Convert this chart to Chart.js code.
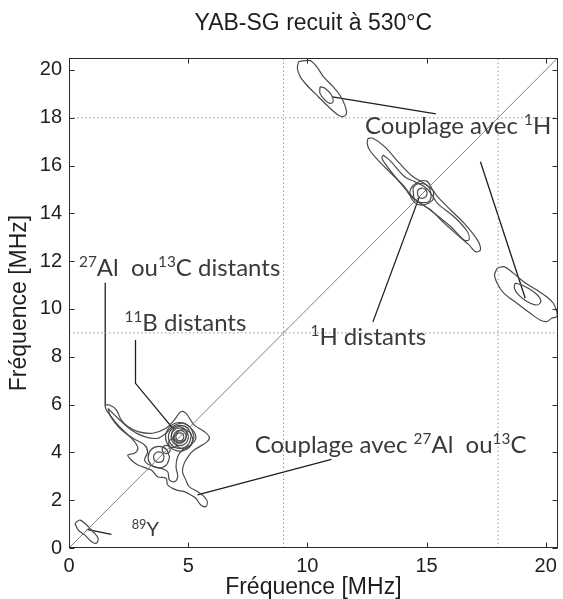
<!DOCTYPE html>
<html><head><meta charset="utf-8">
<script src="https://cdn.jsdelivr.net/npm/chart.js@4/dist/chart.umd.min.js"></script>
<style>html,body{margin:0;padding:0;background:#fff}#wrap{width:563px;height:599px;position:relative}</style>
</head><body><div id="wrap"><canvas id="c"></canvas></div>
<script>
// ---------- data ----------
const chartTitle = 'YAB-SG recuit à 530°C';
const axisTitle = 'Fréquence [MHz]';
const axisMax = 20.5;
const xTickValues = [0, 5, 10, 15, 20];
const yTickValues = [0, 2, 4, 6, 8, 10, 12, 14, 16, 18, 20];
const guideLinesX = [9, 18];
const guideLinesY = [9, 18];
const diagonal = [[0, 0], [20.5, 20.5]];

// contour lines (MHz, MHz)
const topLeftOuter = [[9.63,20.35],[10.11,20.39],[10.39,20.14],[10.67,19.72],[11.08,19.30],[11.36,18.95],[11.57,18.53],[11.64,18.19],[11.5,18.05],[11.29,18.12],[10.95,18.40],[10.46,18.88],[9.97,19.37],[9.70,19.72],[9.58,20.07]];
const topLeftInner = [[10.53,19.30],[10.74,19.23],[11.01,18.95],[11.08,18.67],[10.95,18.60],[10.74,18.74],[10.53,19.02]];
const ridgeOuter = [[12.54,17.14],[12.75,17.14],[13.24,16.79],[13.86,16.10],[14.42,15.54],[14.90,15.26],[15.25,14.98],[15.46,14.70],[16.01,14.14],[16.57,13.59],[17.13,12.89],[17.26,12.47],[17.05,12.40],[16.78,12.68],[16.29,13.10],[15.74,13.59],[15.18,14.14],[14.63,14.49],[14.28,14.84],[14.07,15.12],[13.51,15.68],[12.96,16.23],[12.61,16.65],[12.51,16.93]];
const ridgeInner = [[13.17,16.44],[13.45,16.23],[14.07,15.54],[14.49,15.33],[14.90,15.12],[15.18,14.84],[15.46,14.42],[16.15,13.86],[16.71,13.24],[16.78,12.89],[16.57,12.89],[16.01,13.45],[15.32,14.01],[14.76,14.42],[14.35,14.70],[14.14,14.98],[13.79,15.40],[13.30,16.03],[13.13,16.30]];
const ridgeCore1 = [[15.3,14.9],[15.0,15.35],[14.55,15.25],[14.3,14.9],[14.5,14.45],[14.85,14.35],[15.25,14.55]];
const ridgeCore2 = [[15.2,14.7],[15.1,15.1],[14.75,15.25],[14.45,15.1],[14.45,14.85],[14.5,14.55],[14.8,14.45],[15.1,14.5]];
const ridgeCore3 = [[15.03,14.84],[14.95,15.0],[14.8,15.06],[14.65,14.98],[14.62,14.82],[14.68,14.68],[14.83,14.63],[14.97,14.7]];
const rightOuter = [[17.96,11.70],[18.24,11.77],[18.65,11.49],[19.07,11.14],[19.63,10.79],[20.04,10.51],[20.32,10.24],[20.46,9.89],[20.46,9.68],[20.25,9.61],[20.04,9.47],[19.76,9.54],[19.35,9.82],[18.79,10.24],[18.24,10.66],[17.96,11.08],[17.85,11.42]];
const rightInner = [[18.72,11.08],[19.0,11.0],[19.49,10.72],[19.76,10.45],[19.76,10.24],[19.55,10.17],[19.21,10.31],[18.86,10.59],[18.68,10.87]];
const clusterOuter = [[1.5,5.98],[1.71,5.98],[1.99,5.77],[2.19,5.36],[2.47,5.08],[2.89,4.87],[3.51,4.80],[4.07,5.01],[4.42,5.36],[4.69,5.70],[4.90,5.64],[5.25,5.15],[5.67,4.87],[5.88,4.66],[5.80,4.45],[5.25,4.10],[5.04,3.89],[4.83,3.54],[4.76,3.19],[4.90,2.85],[5.04,2.57],[5.39,2.36],[5.67,2.15],[5.80,1.94],[5.74,1.73],[5.53,1.80],[5.32,2.08],[5.11,2.22],[4.83,2.36],[4.49,2.43],[4.14,2.64],[4.07,2.92],[3.72,2.98],[3.45,3.26],[2.89,3.47],[2.61,3.68],[2.47,3.89],[2.75,3.96],[2.89,4.17],[2.75,4.45],[2.47,4.73],[2.05,5.15],[1.78,5.49],[1.57,5.77]];
const clusterMiddle = [[1.64,5.84],[2.05,5.43],[2.61,4.94],[3.17,4.66],[3.72,4.59],[4.07,4.80],[4.35,5.08],[4.76,5.22],[5.18,4.94],[5.32,4.59],[5.11,4.31],[4.76,4.10],[4.56,3.82],[4.49,3.40],[4.56,2.98],[4.42,2.77],[4.21,2.85],[4.14,3.19],[3.86,3.33],[3.38,3.47],[3.17,3.68],[3.30,4.03],[3.17,4.31],[2.68,4.59],[2.13,5.01],[1.75,5.49]];
const clusterRing1 = [[4.22,3.8],[4.09,4.12],[3.77,4.25],[3.45,4.12],[3.32,3.8],[3.45,3.48],[3.77,3.35],[4.09,3.48]];
const clusterRing2 = [[3.99,3.8],[3.93,3.96],[3.77,4.02],[3.61,3.96],[3.55,3.8],[3.61,3.64],[3.77,3.58],[3.93,3.64]];
const clusterRing3 = [[4.25,4.12],[4.2,4.24],[4.08,4.29],[3.96,4.24],[3.91,4.12],[3.96,4.0],[4.08,3.95],[4.2,4.0]];
const clusterRing4 = [[4.54,4.38],[4.49,4.51],[4.36,4.56],[4.23,4.51],[4.18,4.38],[4.23,4.25],[4.36,4.2],[4.49,4.25]];
const blobRing1 = [[5.25,4.65],[5.07,5.07],[4.65,5.25],[4.23,5.07],[4.05,4.65],[4.23,4.23],[4.65,4.05],[5.07,4.23]];
const blobRing2 = [[5.13,4.67],[4.99,5.0],[4.66,5.13],[4.32,4.99],[4.17,4.65],[4.31,4.31],[4.64,4.17],[4.99,4.31]];
const blobRing3 = [[5.02,4.65],[4.91,4.91],[4.65,5.02],[4.39,4.91],[4.28,4.65],[4.39,4.39],[4.65,4.28],[4.91,4.39]];
const blobRing4 = [[4.92,4.66],[4.84,4.85],[4.65,4.92],[4.46,4.84],[4.38,4.65],[4.46,4.46],[4.66,4.38],[4.84,4.47]];
const blobRing5 = [[4.82,4.65],[4.77,4.77],[4.65,4.82],[4.53,4.77],[4.48,4.65],[4.53,4.53],[4.65,4.48],[4.77,4.53]];
const blobRing6 = [[5.2,4.55],[5.08,4.83],[4.8,4.95],[4.52,4.83],[4.4,4.55],[4.52,4.27],[4.8,4.15],[5.08,4.27]];
const blobRing7 = [[4.95,4.75],[4.85,4.98],[4.6,5.08],[4.38,4.95],[4.3,4.72],[4.4,4.5],[4.62,4.42],[4.86,4.52]];
const yttrium = [[0.25,1.03],[0.46,1.17],[0.74,0.96],[1.01,0.68],[1.22,0.41],[1.15,0.20],[0.95,0.26],[0.67,0.54],[0.39,0.75]];
const contours = [topLeftOuter, topLeftInner, ridgeOuter, ridgeInner, ridgeCore1, ridgeCore2, ridgeCore3,
  rightOuter, rightInner, clusterOuter, clusterMiddle, clusterRing1, clusterRing2, clusterRing3, clusterRing4,
  blobRing1, blobRing2, blobRing3, blobRing4, blobRing5, blobRing6, blobRing7, yttrium];

// leader lines
const leaderH1a = [[11.05,18.87],[15.39,18.16]];
const leaderH1b = [[17.26,16.16],[19.14,10.45]];
const leaderHdist = [[14.7,14.7],[12.75,9.46]];
const leaderAlDist = [[1.52,11.1],[1.52,5.98]];
const leaderBDist = [[2.79,8.70],[2.79,6.89],[4.4,4.95]];
const leaderAlCoup = [[5.39,2.22],[11.01,3.71]];
const leaderY = [[0.74,0.78],[1.78,0.57]];
const leaders = [leaderH1a, leaderH1b, leaderHdist, leaderAlDist, leaderBDist, leaderAlCoup, leaderY];

// annotation texts (^{..} = superscript) and their anchors (left, baseline) in MHz
const labelTexts = ['Couplage avec ^{1}H', '^{27}Al  ou^{13}C distants', '^{11}B distants', '^{1}H distants', 'Couplage avec ^{27}Al  ou^{13}C', '^{89}Y'];
const labelAnchors = [[12.42,17.32],[0.42,11.38],[2.33,9.08],[10.13,8.49],[7.79,3.97],[2.63,0.50]];
const labelSizes = [24, 24, 24, 24, 24, 20];

// ---------- chart ----------
const toPts = (arr, closed) => {
  const p = arr.map(([x, y]) => ({x, y}));
  if (closed) p.push({x: arr[0][0], y: arr[0][1]});
  return p;
};
const datasets = [];
guideLinesX.forEach(v => datasets.push({data: toPts([[v, 0], [v, axisMax]]), borderColor: '#9a9a9a', borderWidth: 1, borderDash: [1.5, 2.5]}));
guideLinesY.forEach(v => datasets.push({data: toPts([[0, v], [axisMax, v]]), borderColor: '#9a9a9a', borderWidth: 1, borderDash: [1.5, 2.5]}));
datasets.push({data: toPts(diagonal), borderColor: '#808080', borderWidth: 1});
contours.forEach(c => datasets.push({data: toPts(c, true), borderColor: '#4a4a4a', borderWidth: 1.2, tension: 0.35}));
leaders.forEach(l => datasets.push({data: toPts(l), borderColor: '#1e1e1e', borderWidth: 1.3}));

const parseRich = s => {
  const parts = []; const re = /\^\{([^}]*)\}/g; let last = 0, m;
  while ((m = re.exec(s))) {
    if (m.index > last) parts.push({t: s.slice(last, m.index), sup: false});
    parts.push({t: m[1], sup: true}); last = re.lastIndex;
  }
  if (last < s.length) parts.push({t: s.slice(last), sup: false});
  return parts;
};

const annotPlugin = {
  id: 'annot',
  afterDatasetsDraw(chart) {
    const {ctx, scales: {x, y}} = chart;
    ctx.save();
    ctx.fillStyle = '#3a3a3a';
    ctx.textBaseline = 'alphabetic';
    ctx.textAlign = 'left';
    labelTexts.forEach((txt, i) => {
      let px = x.getPixelForValue(labelAnchors[i][0]);
      const py = y.getPixelForValue(labelAnchors[i][1]);
      const size = labelSizes[i];
      parseRich(txt).forEach(p => {
        const fs = p.sup ? size * 0.64 : size;
        ctx.font = fs + 'px Lato';
        ctx.fillText(p.t, px, p.sup ? py - size * 0.36 : py);
        px += ctx.measureText(p.t).width;
      });
    });
    ctx.restore();
  },
  afterDraw(chart) {
    const {ctx, chartArea: a, scales: {x, y}} = chart;
    ctx.save();
    ctx.strokeStyle = '#2a2a2a';
    ctx.lineWidth = 1;
    const L = Math.round(a.left) + 0.5, R = Math.round(a.right) - 0.5, T = Math.round(a.top) + 0.5, B = Math.round(a.bottom) - 0.5;
    ctx.strokeRect(L, T, R - L, B - T);
    ctx.beginPath();
    xTickValues.forEach(v => {
      const px = Math.round(x.getPixelForValue(v)) + 0.5;
      ctx.moveTo(px, B); ctx.lineTo(px, B - 5);
      ctx.moveTo(px, T); ctx.lineTo(px, T + 5);
    });
    yTickValues.forEach(v => {
      const py = Math.round(y.getPixelForValue(v)) + 0.5;
      ctx.moveTo(L, py); ctx.lineTo(L + 5, py);
      ctx.moveTo(R, py); ctx.lineTo(R - 5, py);
    });
    ctx.stroke();
    ctx.restore();
  }
};

const axisFont = {family: 'Liberation Sans, Arial, sans-serif', size: 20};
const titleFont = {family: 'Liberation Sans, Arial, sans-serif', size: 23, weight: 'normal'};

new Chart(document.getElementById('c'), {
  type: 'scatter',
  data: {datasets: datasets.map(d => Object.assign({showLine: true, pointRadius: 0, fill: false}, d))},
  options: {
    responsive: true, maintainAspectRatio: false, animation: false,
    layout: {padding: {left: 0, right: 2, top: 0, bottom: 0}},
    plugins: {
      legend: {display: false}, tooltip: {enabled: false},
      title: {display: true, text: chartTitle, fullSize: false, color: '#1e1e1e', font: titleFont, padding: {top: 10, bottom: 20.4}}
    },
    scales: {
      x: {
        type: 'linear', min: 0, max: axisMax,
        afterBuildTicks: s => { s.ticks = xTickValues.map(v => ({value: v})); },
        afterFit: s => { s.height = 51; },
        grid: {display: false, drawTicks: false, tickLength: 0},
        border: {display: false},
        ticks: {font: axisFont, color: '#1e1e1e', padding: 6, maxRotation: 0, autoSkip: false},
        title: {display: true, text: axisTitle, font: titleFont, color: '#1e1e1e', padding: {top: 0, bottom: -2}}
      },
      y: {
        type: 'linear', min: 0, max: axisMax,
        afterBuildTicks: s => { s.ticks = yTickValues.map(v => ({value: v})); },
        afterFit: s => { s.width = 69; },
        grid: {display: false, drawTicks: false, tickLength: 0},
        border: {display: false},
        ticks: {font: axisFont, color: '#1e1e1e', padding: 7, autoSkip: false},
        title: {display: true, text: axisTitle, font: titleFont, color: '#1e1e1e', padding: {top: 6, bottom: 0}}
      }
    }
  },
  plugins: [annotPlugin]
});
</script></body></html>
